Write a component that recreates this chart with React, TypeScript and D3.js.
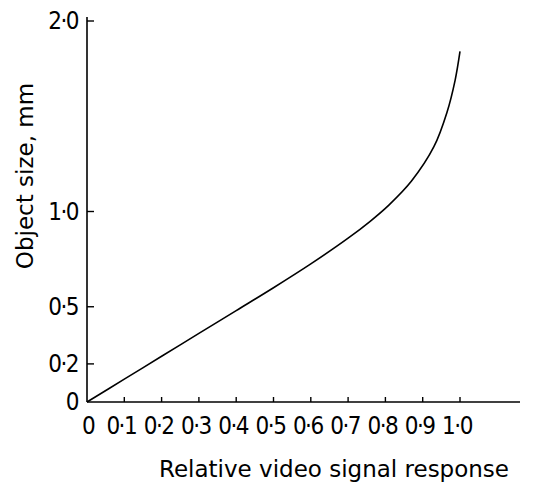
import React from "react";
import * as d3 from "d3";

const xTicks = [0, 0.1, 0.2, 0.3, 0.4, 0.5, 0.6, 0.7, 0.8, 0.9, 1.0];
const xTickLabels = ["0", "0·1", "0·2", "0·3", "0·4", "0·5", "0·6", "0·7", "0·8", "0·9", "1·0"];
const yTicks = [0, 0.2, 0.5, 1.0, 2.0];
const yTickLabels = ["0", "0·2", "0·5", "1·0", "2·0"];
const curveX = [0, 0.1, 0.2, 0.3, 0.4, 0.5, 0.6, 0.7, 0.76, 0.81, 0.87, 0.93, 0.965, 0.987, 1.0];
const curveY = [0, 0.12, 0.24, 0.36, 0.48, 0.6, 0.725, 0.86, 0.95, 1.035, 1.16, 1.34, 1.52, 1.69, 1.84];

export default function App() {
  const W = 534, H = 485;
  const x = d3.scaleLinear().domain([0, 1]).range([87, 460]);
  const y = d3.scaleLinear().domain([0, 2]).range([402, 21]);
  const pts: [number, number][] = curveX.map((v, i) => [v, curveY[i]]);
  const line = d3.line<[number, number]>().x(d => x(d[0])).y(d => y(d[1])).curve(d3.curveCatmullRom.alpha(0.5));
  const font = "DejaVu Sans, sans-serif";
  const tickFont = "'Liberation Sans Narrow', 'DejaVu Sans Condensed', sans-serif";
  return (
    <svg width={W} height={H} style={{ position: "absolute", left: 0, top: 0, background: "#fff" }}>
      <line x1={x(0)} y1={17} x2={x(0)} y2={y(0)} stroke="#000" strokeWidth={1.6} />
      <line x1={x(0)} y1={y(0)} x2={520} y2={y(0)} stroke="#000" strokeWidth={1.6} />
      {yTicks.map((t, i) => (
        <g key={"y" + i}>
          {t > 0 && <line x1={x(0)} x2={x(0) + 7} y1={y(t)} y2={y(t)} stroke="#000" strokeWidth={1.4} />}
          <text x={78} y={y(t) + 8} textAnchor="end" fontFamily={tickFont} fontSize={24} letterSpacing={-1.5} fill="#000">{yTickLabels[i]}</text>
        </g>
      ))}
      {xTicks.map((t, i) => (
        <g key={"x" + i}>
          {t > 0 && <line x1={x(t)} x2={x(t)} y1={y(0)} y2={y(0) - 5} stroke="#000" strokeWidth={1.4} />}
          <text x={x(t) - (t === 0 ? -1 : 3)} y={434} textAnchor="middle" fontFamily={tickFont} fontSize={24} letterSpacing={-1.5} fill="#000">{xTickLabels[i]}</text>
        </g>
      ))}
      <path d={line(pts) || ""} fill="none" stroke="#000" strokeWidth={1.6} />
      <text x={334} y={477} textAnchor="middle" fontFamily={font} fontSize={23} fill="#000">Relative video signal response</text>
      <text transform={`translate(33,176) rotate(-90)`} textAnchor="middle" fontFamily={font} fontSize={23} fill="#000">Object size, mm</text>
    </svg>
  );
}
